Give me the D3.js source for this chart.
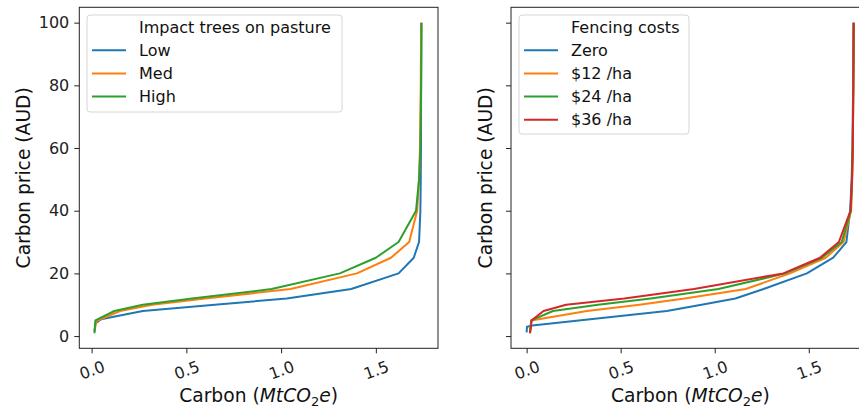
<!DOCTYPE html>
<html>
<head>
<meta charset="utf-8">
<script src="https://cdn.jsdelivr.net/npm/d3@7"></script>
<style>
  html, body { margin: 0; padding: 0; background: #fff; }
  svg { display: block; font-family: "DejaVu Sans", sans-serif; }
</style>
</head>
<body>
<svg id="chart" width="859" height="412"></svg>
<script>
// ---- Data: carbon supply (MtCO2e) at each carbon price (AUD) ----
const xTicks = [0, 0.5, 1.0, 1.5];
const yTicks = [0, 20, 40, 60, 80, 100];

// Left panel: impact of trees on pasture
const impactTitle = "Impact trees on pasture";
const impactLabels = ["Low", "Med", "High"];
const lowPrice   = [1.5, 4, 5.4, 8, 10, 12, 15, 20, 25, 30, 40, 50, 60, 80, 100];
const lowCarbon  = [0.015, 0.02, 0.05, 0.27, 0.65, 1.03, 1.37, 1.62, 1.70, 1.728, 1.735, 1.737, 1.738, 1.739, 1.74];
const medPrice   = [1.5, 4.8, 8, 10, 12, 15, 20, 25, 30, 40, 50, 60, 80, 100];
const medCarbon  = [0.015, 0.025, 0.15, 0.32, 0.6, 1.05, 1.40, 1.58, 1.676, 1.718, 1.728, 1.733, 1.737, 1.739];
const highPrice  = [0.9, 5, 8, 10, 12, 15, 20, 25, 30, 40, 50, 60, 80, 100];
const highCarbon = [0.015, 0.02, 0.12, 0.27, 0.53, 0.95, 1.31, 1.50, 1.62, 1.712, 1.728, 1.735, 1.739, 1.741];

// Right panel: fencing costs
const fenceTitle = "Fencing costs";
const fenceLabels = ["Zero", "$12 /ha", "$24 /ha", "$36 /ha"];
const zeroPrice   = [1.2, 3, 3.4, 8, 10, 12, 15, 20, 25, 30, 40, 50, 60, 80, 100];
const zeroCarbon  = [0.0, 0.002, 0.03, 0.745, 0.93, 1.11, 1.26, 1.49, 1.63, 1.70, 1.72, 1.728, 1.732, 1.736, 1.738];
const f12Price    = [1, 5, 8, 10, 12, 15, 20, 25, 30, 40, 50, 60, 80, 100];
const f12Carbon   = [0.018, 0.025, 0.32, 0.6, 0.84, 1.165, 1.40, 1.59, 1.685, 1.725, 1.731, 1.734, 1.737, 1.739];
const f24Price    = [1, 5, 8, 10, 12, 15, 20, 25, 30, 40, 50, 60, 80, 100];
const f24Carbon   = [0.018, 0.025, 0.14, 0.38, 0.66, 1.02, 1.375, 1.57, 1.675, 1.724, 1.73, 1.734, 1.737, 1.739];
const f36Price    = [0.85, 5, 8, 10, 12, 15, 20, 25, 30, 40, 50, 60, 80, 100];
const f36Carbon   = [0.018, 0.027, 0.09, 0.21, 0.52, 0.89, 1.365, 1.56, 1.66, 1.722, 1.73, 1.734, 1.737, 1.739];

const colors = ["#1f77b4", "#ff7f0e", "#2ca02c", "#d62728"];

const zip = (xs, ys) => xs.map((x, i) => [x, ys[i]]);

const panels = [
  {
    left: 79.3, right: 438, xDomain: [-0.065, 1.828], showYLabels: true,
    title: impactTitle, labels: impactLabels,
    series: [zip(lowCarbon, lowPrice), zip(medCarbon, medPrice), zip(highCarbon, highPrice)],
    legend: { x: 87, y: 15, w: 255, h: 97 },
    yLabelX: 23
  },
  {
    left: 511, right: 869.7, xDomain: [-0.083, 1.824], showYLabels: false,
    title: fenceTitle, labels: fenceLabels,
    series: [zip(zeroCarbon, zeroPrice), zip(f12Carbon, f12Price), zip(f24Carbon, f24Price), zip(f36Carbon, f36Price)],
    legend: { x: 519, y: 15, w: 170, h: 119 },
    yLabelX: 485
  }
];

const plotTop = 7.3, plotBottom = 348.3;
const tickFont = 16, labelFont = 18.7, legendFont = 16;
const svg = d3.select("#chart");

panels.forEach(p => {
  const x = d3.scaleLinear().domain(p.xDomain).range([p.left, p.right]);
  const y = d3.scaleLinear().domain([-3.9, 104.9]).range([plotBottom, plotTop]);
  const g = svg.append("g");

  // curves
  const line = d3.line().x(d => x(d[0])).y(d => y(d[1]));
  p.series.forEach((s, i) => {
    g.append("path").datum(s)
      .attr("d", line)
      .attr("fill", "none")
      .attr("stroke", colors[i])
      .attr("stroke-width", 2)
      .attr("stroke-linejoin", "round");
  });

  // axes
  const xAxis = g.append("g")
    .attr("transform", `translate(0,${plotBottom})`)
    .call(d3.axisBottom(x).tickValues(xTicks).tickFormat(d3.format(".1f")).tickSize(5).tickSizeOuter(0));
  xAxis.selectAll(".tick text")
    .attr("y", 0).attr("dy", null)
    .attr("dominant-baseline", "central")
    .attr("transform", "translate(0,22) rotate(-20)");

  const yAxis = g.append("g")
    .attr("transform", `translate(${p.left},0)`)
    .call(d3.axisLeft(y).tickValues(yTicks).tickSize(5).tickPadding(5).tickSizeOuter(0));
  if (!p.showYLabels) yAxis.selectAll(".tick text").remove();

  [xAxis, yAxis].forEach(a => {
    a.select(".domain").remove();
    a.selectAll(".tick line").attr("stroke", "#222").attr("stroke-width", 1);
    a.selectAll(".tick text").attr("fill", "#222").style("font-size", tickFont + "px")
      .style("font-family", "DejaVu Sans");
  });

  // frame
  g.append("rect")
    .attr("x", p.left).attr("y", plotTop)
    .attr("width", p.right - p.left).attr("height", plotBottom - plotTop)
    .attr("fill", "none").attr("stroke", "#222").attr("stroke-width", 1);

  // axis titles
  const xl = g.append("text")
    .attr("x", (p.left + p.right) / 2).attr("y", 402)
    .attr("text-anchor", "middle")
    .style("font-size", labelFont + "px").attr("fill", "#111");
  xl.append("tspan").text("Carbon (");
  xl.append("tspan").style("font-style", "italic").text("MtCO");
  xl.append("tspan").attr("dy", 4).style("font-size", (labelFont * 0.7) + "px").text("2");
  xl.append("tspan").attr("dy", -4).style("font-style", "italic").text("e");
  xl.append("tspan").text(")");

  g.append("text")
    .attr("transform", `translate(${p.yLabelX},${(plotTop + plotBottom) / 2}) rotate(-90)`)
    .attr("text-anchor", "middle").attr("dominant-baseline", "central")
    .style("font-size", labelFont + "px").attr("fill", "#111")
    .text("Carbon price (AUD)");

  // legend
  const L = p.legend;
  const lg = g.append("g");
  lg.append("rect")
    .attr("x", L.x).attr("y", L.y).attr("width", L.w).attr("height", L.h)
    .attr("rx", 3).attr("fill", "#fff").attr("fill-opacity", 0.8)
    .attr("stroke", "#d6d6d6").attr("stroke-width", 1);
  const rowY = i => L.y + 12 + i * 23.2;
  const entries = [p.title].concat(p.labels);
  entries.forEach((t, i) => {
    if (i > 0) {
      lg.append("line")
        .attr("x1", L.x + 5).attr("x2", L.x + 39)
        .attr("y1", rowY(i)).attr("y2", rowY(i))
        .attr("stroke", colors[i - 1]).attr("stroke-width", 2);
    }
    lg.append("text")
      .attr("x", L.x + 52).attr("y", rowY(i))
      .attr("dominant-baseline", "central")
      .style("font-size", legendFont + "px").attr("fill", "#111")
      .text(t);
  });
});
</script>
</body>
</html>
